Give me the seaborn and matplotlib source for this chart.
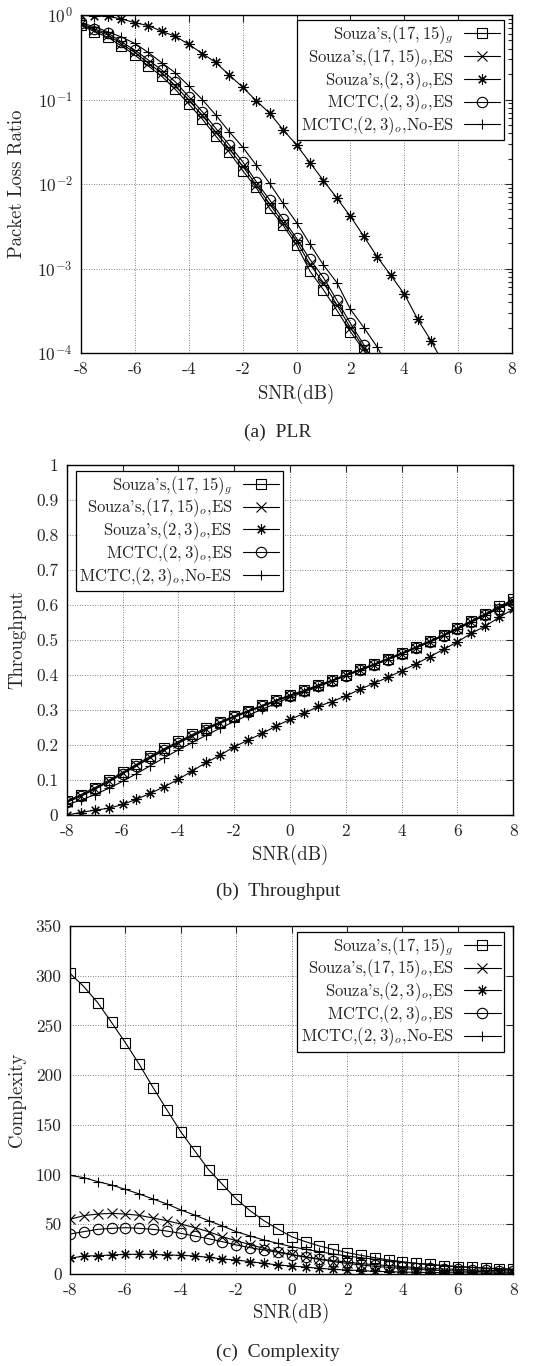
import matplotlib
matplotlib.use("Agg")
import matplotlib.pyplot as plt
import seaborn as sns

# SNR grid (dB)
snr = [-8, -7.5, -7, -6.5, -6, -5.5, -5, -4.5, -4, -3.5, -3, -2.5, -2, -1.5, -1, -0.5,
       0, 0.5, 1, 1.5, 2, 2.5, 3, 3.5, 4, 4.5, 5, 5.5, 6, 6.5, 7, 7.5, 8]

labels = ["Souza's,$(17,15)_g$", "Souza's,$(17,15)_o$,ES", "Souza's,$(2,3)_o$,ES",
          "MCTC,$(2,3)_o$,ES", "MCTC,$(2,3)_o$,No-ES"]

# (a) packet loss ratio
plr_sq = [0.76, 0.635, 0.545, 0.43, 0.336, 0.249, 0.188, 0.132, 0.0885, 0.0588, 0.037,
          0.0239, 0.0144, 0.0091, 0.00515, 0.00324, 0.0019, 0.00093, 0.00056, 0.00032,
          0.000179, 0.000108, 5.5e-5]
plr_x = [0.78, 0.66, 0.58, 0.455, 0.36, 0.27, 0.205, 0.146, 0.098, 0.065, 0.041,
         0.0263, 0.0163, 0.0098, 0.0058, 0.0035, 0.0021, 0.00112, 0.00068, 0.00037,
         0.0002, 0.000115, 6e-5]
plr_star = [0.99, 0.975, 0.96, 0.90, 0.81, 0.75, 0.64, 0.56, 0.45, 0.35, 0.275, 0.195,
            0.14, 0.097, 0.069, 0.044, 0.029, 0.0179, 0.011, 0.0068, 0.00415, 0.0024,
            0.00137, 0.00083, 0.0005, 0.00025, 0.000139, 7e-5]
plr_circ = [0.80, 0.68, 0.61, 0.48, 0.385, 0.293, 0.223, 0.162, 0.108, 0.0718, 0.0456,
            0.029, 0.0184, 0.0107, 0.0065, 0.00386, 0.00228, 0.00128, 0.00078, 0.00042,
            0.000225, 0.000125, 6.5e-5]
plr_plus = [0.80, 0.73, 0.63, 0.55, 0.46, 0.36, 0.272, 0.207, 0.145, 0.10, 0.0656,
            0.0417, 0.0274, 0.0168, 0.0102, 0.0059, 0.0035, 0.00195, 0.0011, 0.00068,
            0.00033, 0.0002, 0.000117, 6e-5]

# (b) throughput
thr_sq = [0.040, 0.058, 0.078, 0.099, 0.122, 0.145, 0.168, 0.190, 0.210, 0.230, 0.249,
          0.266, 0.283, 0.298, 0.313, 0.328, 0.343, 0.356, 0.371, 0.385, 0.401, 0.416,
          0.431, 0.447, 0.463, 0.480, 0.497, 0.515, 0.535, 0.555, 0.575, 0.596, 0.616]
thr_x = [0.038, 0.055, 0.075, 0.096, 0.119, 0.142, 0.165, 0.187, 0.207, 0.227, 0.246,
         0.264, 0.281, 0.296, 0.311, 0.326, 0.341, 0.355, 0.369, 0.384, 0.399, 0.414,
         0.429, 0.445, 0.461, 0.478, 0.495, 0.513, 0.532, 0.552, 0.572, 0.592, 0.611]
thr_star = [0.000, 0.007, 0.014, 0.019, 0.030, 0.045, 0.062, 0.081, 0.102, 0.126, 0.150,
            0.171, 0.195, 0.214, 0.233, 0.254, 0.273, 0.290, 0.310, 0.324, 0.340, 0.359,
            0.376, 0.393, 0.412, 0.431, 0.452, 0.473, 0.495, 0.519, 0.540, 0.565, 0.588]
thr_circ = [0.036, 0.053, 0.073, 0.094, 0.117, 0.140, 0.163, 0.185, 0.205, 0.225, 0.244,
            0.262, 0.279, 0.295, 0.310, 0.325, 0.340, 0.354, 0.368, 0.383, 0.398, 0.413,
            0.428, 0.444, 0.460, 0.477, 0.494, 0.512, 0.531, 0.551, 0.571, 0.590, 0.608]
thr_plus = [0.030, 0.042, 0.058, 0.076, 0.096, 0.118, 0.141, 0.164, 0.186, 0.207, 0.228,
            0.248, 0.267, 0.285, 0.302, 0.319, 0.336, 0.351, 0.366, 0.382, 0.398, 0.413,
            0.428, 0.444, 0.460, 0.477, 0.494, 0.512, 0.532, 0.552, 0.572, 0.593, 0.613]

# (c) complexity
cx_sq = [302.4, 289, 272.9, 253, 232.6, 210.9, 187.4, 165, 143, 124, 105, 90.2, 75.4,
         63.7, 53.6, 45.3, 37.5, 32.5, 28.2, 24.8, 21.5, 18.8, 16.4, 14.1, 12.4, 10.7,
         9.7, 8.4, 7.4, 6.7, 6.0, 5.4, 5.0]
cx_x = [55, 58.7, 60.3, 61, 60.3, 59, 56.3, 53.6, 50.3, 46.6, 42.6, 37.5, 33.5, 29.5,
        25.8, 22.5, 19.8, 16.8, 14.8, 12.4, 10.7, 9.1, 7.7, 6.7, 5.4, 4.7, 4.0, 3.4, 3.0,
        2.7, 2.3, 2.0, 1.7]
cx_star = [15.8, 18.1, 18.4, 19.1, 19.8, 19.8, 19.8, 19.1, 18.8, 18.1, 16.8, 15.1, 14.1,
           12.4, 10.7, 9.1, 8.0, 7.0, 5.7, 4.7, 4.0, 3.4, 2.7, 2.3, 2.0, 1.7, 1.5, 1.3,
           1.2, 1.1, 1.0, 0.9, 0.8]
cx_circ = [40.2, 42.6, 44.9, 45.9, 46.6, 45.9, 44.9, 43.2, 40.9, 38.2, 35.5, 32.5, 29.2,
           26.5, 24.1, 21.8, 19.1, 17.4, 15.1, 13.4, 12.1, 10.4, 9.4, 8.4, 7.4, 6.4, 5.7,
           5.0, 4.7, 4.0, 3.7, 3.4, 3.0]
cx_plus = [99.2, 96.9, 92.9, 89.5, 85.1, 80.5, 75.4, 70.4, 64.4, 59.3, 53.6, 48.3, 42.6,
           38.2, 34.2, 30.8, 27.5, 24.8, 22.5, 20.1, 18.1, 16.4, 14.8, 13.1, 11.7, 10.7,
           9.4, 8.4, 7.4, 6.7, 5.7, 5.0, 4.4]

markers = ['s', 'x', (8, 2, 0), 'o', '+']

sns.set_style('white')
plt.rcParams['font.family'] = ['cmr10']
plt.rcParams['mathtext.fontset'] = 'cm'
plt.rcParams['axes.formatter.use_mathtext'] = True
plt.rcParams['axes.unicode_minus'] = False

fig = plt.figure(figsize=(5.45, 13.66), dpi=100)
W, H = 545.0, 1366.0


def make_axes(l, r, t, b):
    return fig.add_axes([l / W, 1 - b / H, (r - l) / W, (b - t) / H])


def draw(ax, series, legend_loc, anchor):
    for vals, mk, lab in zip(series, markers, labels):
        sns.lineplot(x=snr[:len(vals)], y=vals, ax=ax, color='k', lw=0.8,
                     marker=mk, markersize=7.5, mfc='none', mec='k', mew=0.8,
                     label=lab, zorder=3)
    ax.set_xlim(-8, 8)
    ax.set_xticks(range(-8, 9, 2))
    ax.set_xticklabels([str(v) for v in range(-8, 9, 2)])
    ax.grid(True, which='major', color='0.35', ls=(0, (1, 2)), lw=0.6)
    ax.tick_params(which='both', direction='in', top=True, right=True,
                   labelsize=12.5, pad=6, width=0.8)
    ax.tick_params(which='major', length=5)
    ax.tick_params(which='minor', length=3)
    for sp in ax.spines.values():
        sp.set_linewidth(1.0)
        sp.set_color('k')
    leg = ax.legend(loc=legend_loc, bbox_to_anchor=anchor, markerfirst=False,
                    fancybox=False, framealpha=1, edgecolor='k', borderaxespad=0,
                    fontsize=12, labelspacing=0, handlelength=2.2,
                    handletextpad=0.6, borderpad=0.2)
    leg.get_frame().set_linewidth(0.9)


# (a) PLR
ax1 = make_axes(81, 512, 15, 353)
draw(ax1, [plr_sq, plr_x, plr_star, plr_circ, plr_plus], 'upper right', (0.981, 0.985))
ax1.set_yscale('log')
ax1.set_ylim(1e-4, 1)
ax1.set_xlabel('SNR(dB)', fontsize=13.5, va='center')
ax1.xaxis.set_label_coords(0.5, (353 - 394) / 338)
ax1.set_ylabel('Packet Loss Ratio', fontsize=13.5, va='center')
ax1.yaxis.set_label_coords((17 - 81) / 431, 0.5)

# (b) Throughput
ax2 = make_axes(66.7, 513.3, 465, 815)
draw(ax2, [thr_sq, thr_x, thr_star, thr_circ, thr_plus], 'upper left', (0.021, 0.984))
ax2.set_ylim(0, 1)
ax2.set_yticks([i / 10 for i in range(11)])
ax2.set_yticklabels(['0', '0.1', '0.2', '0.3', '0.4', '0.5', '0.6', '0.7', '0.8', '0.9', '1'])
ax2.set_xlabel('SNR(dB)', fontsize=13.5, va='center')
ax2.xaxis.set_label_coords(0.5, (815 - 855) / 350)
ax2.set_ylabel('Throughput', fontsize=13.5, va='center')
ax2.yaxis.set_label_coords((17 - 66.7) / 446.6, 0.5)

# (c) Complexity
ax3 = make_axes(70, 513.3, 926, 1274)
draw(ax3, [cx_sq, cx_x, cx_star, cx_circ, cx_plus], 'upper right', (0.979, 0.984))
ax3.set_ylim(0, 350)
ax3.set_yticks(range(0, 351, 50))
ax3.set_yticklabels([str(v) for v in range(0, 351, 50)])
ax3.set_xlabel('SNR(dB)', fontsize=13.5, va='center')
ax3.xaxis.set_label_coords(0.5, (1274 - 1313) / 348)
ax3.set_ylabel('Complexity', fontsize=13.5, va='center')
ax3.yaxis.set_label_coords((17 - 70) / 443.3, 0.5)

# captions
for txt, y in [('(a)  PLR', 432), ('(b)  Throughput', 891), ('(c)  Complexity', 1352)]:
    fig.text(0.51, 1 - y / H, txt, ha='center', va='center', fontsize=14,
             family='Liberation Serif')

fig.savefig('out.png', dpi=100)
